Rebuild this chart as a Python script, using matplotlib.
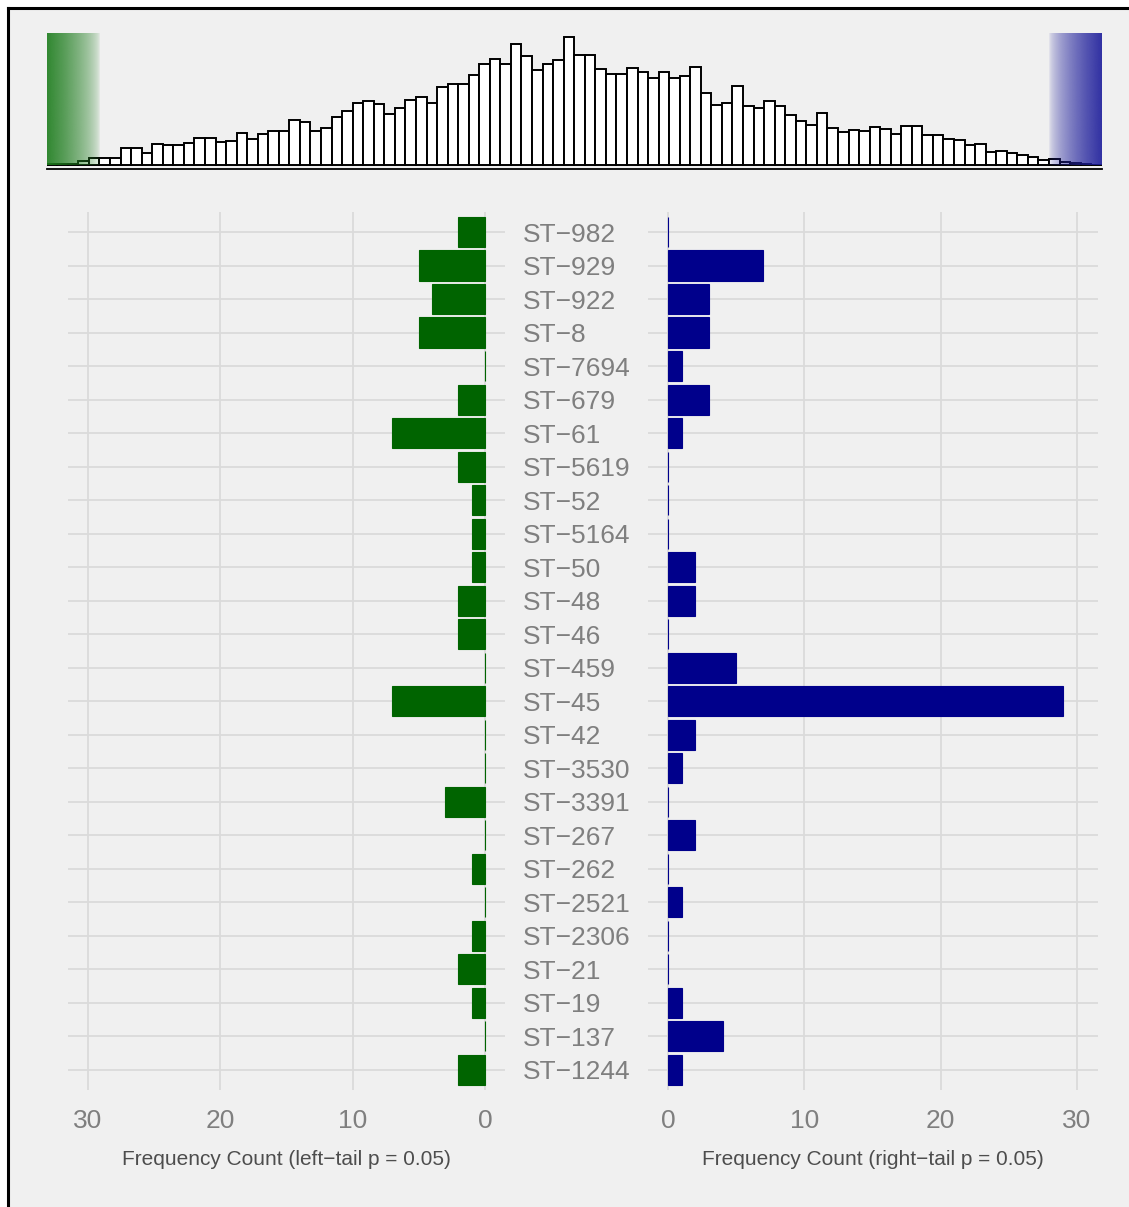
import numpy as np
import matplotlib

matplotlib.use("Agg")
import matplotlib.pyplot as plt
from matplotlib.patches import Rectangle

# histogram of the null distribution (100 bins, heights)
hist_counts = [
    1, 1, 1, 4, 7, 7, 7, 17, 17, 12,
    21, 20, 20, 22, 27, 27, 23, 24, 32, 26,
    31, 34, 34, 45, 43, 34, 37, 48, 54, 62,
    64, 61, 51, 57, 65, 68, 62, 78, 81, 81,
    90, 101, 106, 101, 121, 109, 95, 101, 105, 128,
    110, 110, 96, 91, 91, 97, 93, 87, 93, 87,
    89, 98, 72, 60, 62, 79, 59, 57, 64, 59,
    50, 44, 40, 52, 37, 33, 35, 34, 38, 36,
    31, 39, 39, 30, 30, 26, 25, 20, 21, 13,
    14, 12, 10, 8, 5, 6, 3, 2, 1.5, 0,
]

categories = [
    "ST-982", "ST-929", "ST-922", "ST-8", "ST-7694", "ST-679", "ST-61",
    "ST-5619", "ST-52", "ST-5164", "ST-50", "ST-48", "ST-46", "ST-459",
    "ST-45", "ST-42", "ST-3530", "ST-3391", "ST-267", "ST-262", "ST-2521",
    "ST-2306", "ST-21", "ST-19", "ST-137", "ST-1244",
]
left_counts = [2, 5, 4, 5, 0, 2, 7, 2, 1, 1, 1, 2, 2, 0, 7, 0, 0, 3, 0, 1, 0, 1, 2, 1, 0, 2]
right_counts = [0, 7, 3, 3, 1, 3, 1, 0, 0, 0, 2, 2, 0, 5, 29, 2, 1, 0, 2, 0, 1, 0, 0, 1, 4, 1]
ticks = [0, 10, 20, 30]

W, H = 1129, 1207
BG = "#f0f0f0"
GRID = "#dadada"
GREEN = "#006400"
BLUE = "#00008b"
plt.rcParams["font.family"] = ["Liberation Sans", "DejaVu Sans"]

fig = plt.figure(figsize=(W / 100, H / 100), dpi=100, facecolor="white")


def px_axes(x0, y0, x1, y1):
    # axes from pixel box (top-left origin)
    return fig.add_axes([x0 / W, 1 - y1 / H, (x1 - x0) / W, (y1 - y0) / H])


# panel background with black frame on the left/top edges
fig.patches.append(Rectangle((8 / W, 0), 1, 1 - 8 / H, transform=fig.transFigure,
                             facecolor=BG, edgecolor="none", zorder=-10))
fig.lines.append(plt.Line2D([8 / W, 8 / W], [0, 1 - 8 / H], transform=fig.transFigure,
                            color="black", lw=2.2, zorder=-9))
fig.lines.append(plt.Line2D([8 / W, 1], [1 - 8 / H, 1 - 8 / H], transform=fig.transFigure,
                            color="black", lw=2.2, zorder=-9))

# ---- top histogram ----
axh = px_axes(46.7, 33, 1101.7, 169)
axh.set_facecolor("none")
nb = len(hist_counts)
axh.bar(np.arange(nb), hist_counts, width=1.0, align="edge", color="white",
        edgecolor="black", lw=1.4, zorder=2)
for s in ("top", "left", "right"):
    axh.spines[s].set_visible(False)
axh.spines["bottom"].set_linewidth(1.3)
axh.set_xticks([])
axh.set_yticks([])


def tail_shade(x0, x1, rgb, flip):
    t = np.linspace(0, 1, 200)
    ramp = 0.88 * (1 - t) ** 0.6 + 0.03
    if flip:
        ramp = ramp[::-1]
    img = np.zeros((1, 200, 4))
    img[0, :, :3] = np.array(rgb) / 255
    img[0, :, 3] = ramp
    axh.imshow(img, extent=(x0, x1, 0, 132), aspect="auto", zorder=3,
               interpolation="bilinear")


tail_shade(0, 5, (30, 125, 30), False)
tail_shade(nb - 5, nb, (30, 30, 155), True)
axh.set_xlim(0, nb)
axh.set_ylim(-4, 132)

# ---- mirrored bar panels ----
n = len(categories)
ypos = np.arange(n)
axl = px_axes(68.2, 211.9, 504.8, 1090)
axr = px_axes(647.5, 211.9, 1097.5, 1090)

for ax, vals, col in ((axl, left_counts, GREEN), (axr, right_counts, BLUE)):
    ax.set_facecolor("none")
    ax.barh(ypos, vals, height=0.9, color=col, edgecolor=col, lw=0.8, zorder=3)
    ax.set_ylim(n - 1 + 0.6, -0.6)
    ax.set_xticks(ticks)
    ax.set_yticks(ypos)
    ax.grid(True, color=GRID, lw=1.3, zorder=0)
    ax.set_axisbelow(True)
    ax.tick_params(length=0, labelsize=19, labelcolor="#7f7f7f", pad=14)
    ax.set_yticklabels([])
    for s in ax.spines.values():
        s.set_visible(False)

axl.set_xlim(31.5, -1.5)
axr.set_xlim(-1.5, 31.5)
axl.set_xlabel("Frequency Count (left\u2212tail p = 0.05)", fontsize=15,
               color="#4d4d4d", labelpad=12)
axr.set_xlabel("Frequency Count (right\u2212tail p = 0.05)", fontsize=15,
               color="#4d4d4d", labelpad=12)

# category labels between the panels
lab_x = (523 - 68.2) / (504.8 - 68.2)
for y, c in zip(ypos, categories):
    axl.text(lab_x, y, c.replace("-", "\u2212"), transform=axl.get_yaxis_transform(),
             ha="left", va="center_baseline", fontsize=19, color="#7f7f7f",
             clip_on=False)

fig.savefig("out.png", dpi=100, facecolor="white")
